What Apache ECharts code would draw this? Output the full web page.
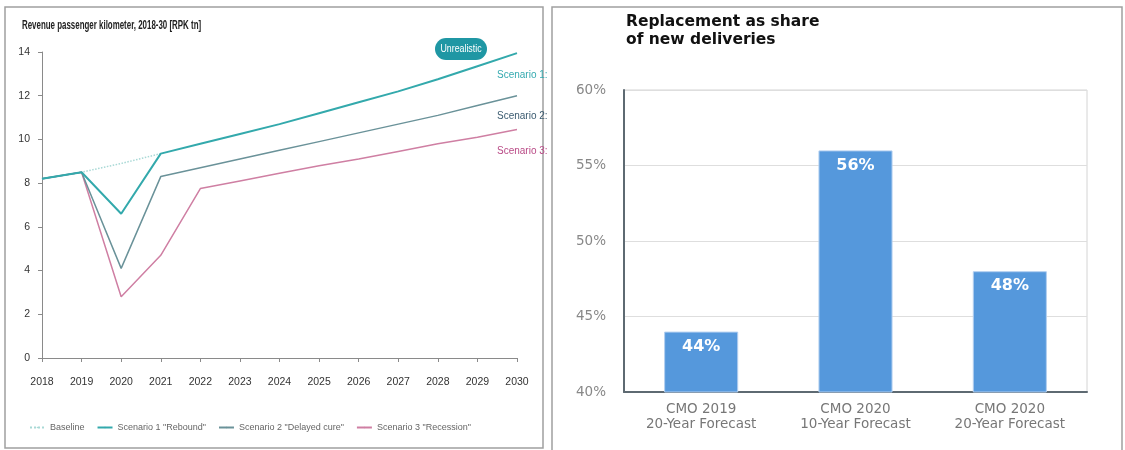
<!DOCTYPE html>
<html>
<head>
<meta charset="utf-8">
<title>RPK scenarios and replacement share</title>
<style>
  html, body { margin: 0; padding: 0; background: #fff; }
  #main { width: 1125px; height: 450px; }
</style>
</head>
<body>
<div id="main"></div>
<script src="https://cdn.jsdelivr.net/npm/echarts@6/dist/echarts.min.js"></script>
<script>
// left chart: revenue passenger kilometer, RPK tn
var years = ['2018', '2019', '2020', '2021', '2022', '2023', '2024', '2025', '2026', '2027', '2028', '2029', '2030'];
var baseline = [8.2, 8.5, 8.9, 9.35, null, null, null, null, null, null, null, null, null];
var rebound = [8.2, 8.5, 6.6, 9.35, 9.8, 10.25, 10.7, 11.2, 11.7, 12.2, 12.75, 13.35, 13.95];
var delayed = [8.2, 8.5, 4.1, 8.3, 8.7, 9.1, 9.5, 9.9, 10.3, 10.7, 11.1, 11.55, 12.0];
var recession = [8.2, 8.5, 2.8, 4.7, 7.75, 8.1, 8.45, 8.8, 9.1, 9.45, 9.8, 10.1, 10.45];

// right chart: replacement as share of new deliveries, %
var forecasts = ['CMO 2019\n20-Year Forecast', 'CMO 2020\n10-Year Forecast', 'CMO 2020\n20-Year Forecast'];
var replacement = [44, 56, 48];

var sans = '"Liberation Sans", Arial, sans-serif';
var wide = '"DejaVu Sans", sans-serif';

var myChart = echarts.init(document.getElementById('main'));

function endLbl(text, color, dy) {
  return {
    show: true,
    formatter: text,
    color: color,
    fontFamily: sans,
    fontSize: 10,
    offset: [-28, dy]
  };
}

var option = {
  animation: false,
  graphic: [
    // panel frames
    { type: 'rect', shape: { x: 5, y: 7, width: 538, height: 441 },
      style: { fill: 'none', stroke: '#a0a0a0', lineWidth: 1.5 }, silent: true },
    { type: 'rect', shape: { x: 552, y: 7, width: 570, height: 450 },
      style: { fill: 'none', stroke: '#a0a0a0', lineWidth: 1.5 }, silent: true },
    { type: 'text', x: 22, y: 20, scaleX: 0.66,
      style: { text: 'Revenue passenger kilometer, 2018-30 [RPK tn]', fill: '#222',
               font: 'bold 12px ' + sans } },
    { type: 'group', left: 435, top: 38, children: [
      { type: 'rect', shape: { x: 0, y: 0, width: 52, height: 22, r: 11 },
        style: { fill: '#1f97a4' } },
      { type: 'text', x: 26, y: 11, scaleX: 0.8,
        style: { text: 'Unrealistic', fill: '#fff', font: '11px ' + sans,
                 align: 'center', verticalAlign: 'middle' } }
    ] },
    { type: 'text', left: 626, top: 13,
      style: { text: 'Replacement as share\nof new deliveries', fill: '#111',
               font: 'bold 15.5px ' + wide, lineHeight: 18 } }
  ],
  legend: {
    left: 24,
    top: 418,
    itemWidth: 15,
    itemHeight: 2,
    itemGap: 12,
    textStyle: { color: '#666', fontFamily: sans, fontSize: 9 },
    data: ['Baseline', 'Scenario 1 "Rebound"', 'Scenario 2 "Delayed cure"', 'Scenario 3 "Recession"']
  },
  grid: [
    { left: 42, right: 608, top: 52, bottom: 92 },
    { left: 624, right: 38, top: 90, bottom: 58, show: true, borderColor: '#d4d4d4', borderWidth: 1 }
  ],
  xAxis: [
    {
      gridIndex: 0,
      type: 'category',
      data: years,
      boundaryGap: false,
      axisLine: { lineStyle: { color: '#8a8a8a' } },
      axisTick: { length: 4, lineStyle: { color: '#8a8a8a' } },
      axisLabel: { color: '#333', fontFamily: sans, fontSize: 10.5, margin: 19 },
      splitLine: { show: false }
    },
    {
      gridIndex: 1,
      type: 'category',
      data: forecasts,
      axisLine: { lineStyle: { color: '#5e6a72', width: 2 } },
      axisTick: { show: false },
      axisLabel: { color: '#777', fontFamily: wide, fontSize: 13.5, margin: 10, lineHeight: 15 }
    }
  ],
  yAxis: [
    {
      gridIndex: 0,
      type: 'value',
      min: 0,
      max: 14,
      interval: 2,
      axisLine: { show: true, lineStyle: { color: '#8a8a8a' } },
      axisTick: { show: true, length: 4, lineStyle: { color: '#8a8a8a' } },
      axisLabel: { color: '#333', fontFamily: sans, fontSize: 10.5, margin: 12 },
      splitLine: { show: false }
    },
    {
      gridIndex: 1,
      type: 'value',
      min: 40,
      max: 60,
      interval: 5,
      axisLine: { show: true, lineStyle: { color: '#5e6a72', width: 2 } },
      axisTick: { show: false },
      axisLabel: { color: '#888', fontFamily: wide, fontSize: 13.5, margin: 18, formatter: '{value}%' },
      splitLine: { lineStyle: { color: '#dedede' } }
    }
  ],
  series: [
    {
      name: 'Baseline',
      type: 'line',
      xAxisIndex: 0, yAxisIndex: 0,
      data: baseline,
      symbol: 'none',
      lineStyle: { color: '#a9d9d6', width: 1.5, type: 'dotted' },
      itemStyle: { color: '#a9d9d6' }
    },
    {
      name: 'Scenario 1 "Rebound"',
      type: 'line',
      xAxisIndex: 0, yAxisIndex: 0,
      data: rebound,
      symbol: 'none',
      z: 4,
      lineStyle: { color: '#33a9ac', width: 2 },
      itemStyle: { color: '#33a9ac' },
      endLabel: endLbl('Scenario 1:', '#35aab0', 22)
    },
    {
      name: 'Scenario 2 "Delayed cure"',
      type: 'line',
      xAxisIndex: 0, yAxisIndex: 0,
      data: delayed,
      symbol: 'none',
      z: 3,
      lineStyle: { color: '#6a9299', width: 1.5 },
      itemStyle: { color: '#6a9299' },
      endLabel: endLbl('Scenario 2:', '#3b5b70', 21)
    },
    {
      name: 'Scenario 3 "Recession"',
      type: 'line',
      xAxisIndex: 0, yAxisIndex: 0,
      data: recession,
      symbol: 'none',
      z: 2,
      lineStyle: { color: '#cf7fa3', width: 1.5 },
      itemStyle: { color: '#cf7fa3' },
      endLabel: endLbl('Scenario 3:', '#b94a86', 22)
    },
    {
      name: 'Replacement',
      type: 'bar',
      xAxisIndex: 1, yAxisIndex: 1,
      data: replacement,
      barWidth: '48%',
      itemStyle: { color: '#5598dc', borderColor: '#b3cff0', borderWidth: 1 },
      label: {
        show: true,
        position: 'insideTop',
        distance: 7,
        formatter: '{c}%',
        color: '#fff',
        fontFamily: wide,
        fontWeight: 'bold',
        fontSize: 16
      }
    }
  ]
};

myChart.setOption(option);
</script>
</body>
</html>
